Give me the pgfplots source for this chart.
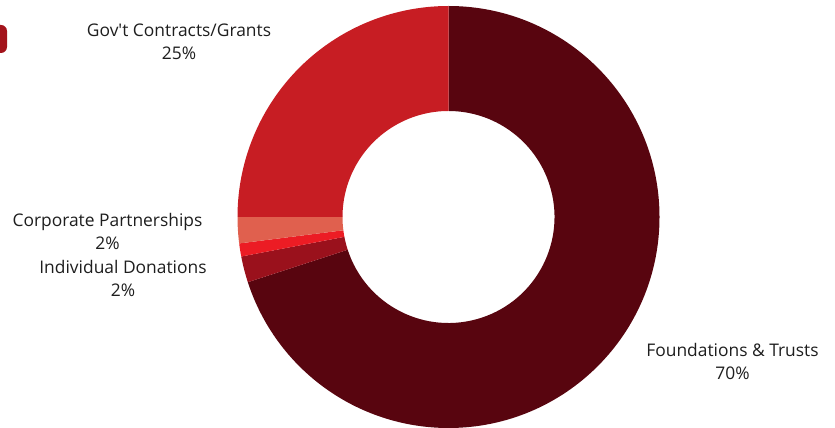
\documentclass[border=0pt]{standalone}
\usepackage{pgfplots}
\pgfplotsset{compat=1.18}
\usepackage{fontspec}
\setmainfont{Open Sans}

\definecolor{cFound}{HTML}{58050F}
\definecolor{cIndiv}{HTML}{9A111C}
\definecolor{cOther}{HTML}{EC1C24}
\definecolor{cCorp}{HTML}{E0604E}
\definecolor{cGov}{HTML}{C71D23}
\definecolor{cText}{HTML}{1E1E1E}
\definecolor{cTab}{HTML}{A3131B}

\begin{document}
\begin{tikzpicture}
\useasboundingbox (0,0) rectangle (835bp,428bp);
% clipped shape at the top left edge
\fill[cTab, rounded corners=6bp] (-20bp,375bp) rectangle (7bp,403bp);
\begin{axis}[
    at={(0,0)}, anchor=south west,
    scale only axis, width=835bp, height=428bp,
    xmin=-448.5, xmax=386.5, ymin=-211, ymax=217,
    hide axis, clip=false]
  \pgfplotsextra{
    \gdef\segstart{90}
    % share (%) / colour, clockwise from the top
    \foreach \v/\c in {70/cFound, 2/cIndiv, 1/cOther, 2/cCorp, 25/cGov} {
      \pgfmathsetmacro\segstop{\segstart-3.6*\v}
      \fill[\c, shift={(axis cs:0,0)}]
        (\segstart:211bp) arc[start angle=\segstart, end angle=\segstop, radius=211bp]
        -- (\segstop:106bp) arc[start angle=\segstop, end angle=\segstart, radius=106bp]
        -- cycle;
      \global\let\segstart\segstop
    }
  }
\end{axis}
\begin{scope}[every node/.style={anchor=base, text=cText, inner sep=0pt,
    font=\fontsize{17.4bp}{20bp}\selectfont}]
  \node at (179bp,391bp) {Gov\textquotesingle t Contracts/Grants};
  \node at (179bp,368bp) {25\%};
  \node at (107.5bp,201bp) {Corporate Partnerships};
  \node at (107.5bp,178bp) {2\%};
  \node at (123bp,154bp) {Individual Donations};
  \node at (123bp,131bp) {2\%};
  \node at (732.5bp,71bp) {Foundations \& Trusts};
  \node at (732.5bp,48bp) {70\%};
\end{scope}
\end{tikzpicture}
\end{document}
